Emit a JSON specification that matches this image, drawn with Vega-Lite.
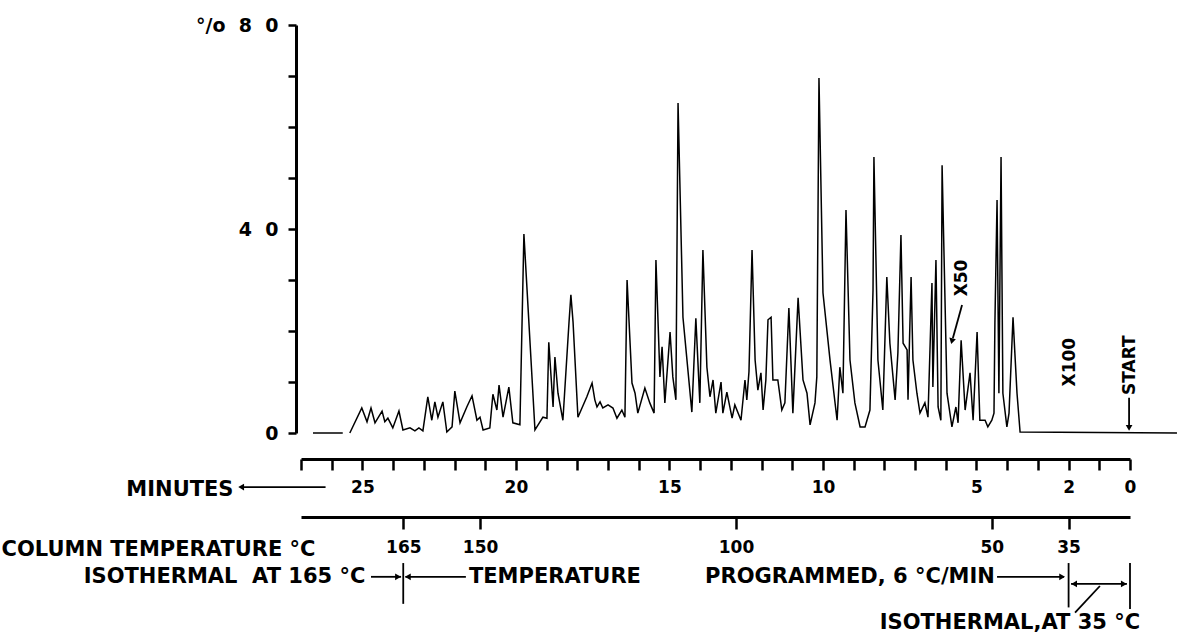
{
  "$schema": "https://vega.github.io/schema/vega-lite/v6.json",
  "width": 829,
  "height": 408,
  "autosize": {"type": "none"},
  "padding": {"left": 301, "top": 25, "right": 47, "bottom": 204},
  "background": "white",
  "config": {
    "view": {"stroke": null},
    "font": "DejaVu Sans",
    "axis": {
      "grid": false,
      "domainColor": "black",
      "tickColor": "black",
      "labelColor": "black",
      "titleColor": "black",
      "labelFont": "DejaVu Sans",
      "titleFont": "DejaVu Sans",
      "labelFontWeight": "bold",
      "titleFontWeight": "bold",
      "labelFontSize": 17,
      "titleFontSize": 21,
      "labelFlush": false,
      "labelOverlap": false
    },
    "text": {"font": "DejaVu Sans", "fontWeight": "bold", "fontSize": 21, "color": "black"}
  },
  "datasets": {
    "chrom": [
      {"t": 26.61, "p": 0, "s": "a"}, {"t": 25.64, "p": 0, "s": "a"},
      {"t": 25.41, "p": 0, "s": "b"}, {"t": 25.02, "p": 4.9, "s": "b"}, {"t": 24.85, "p": 2.2, "s": "b"}, {"t": 24.72, "p": 4.9, "s": "b"}, {"t": 24.59, "p": 2.0, "s": "b"}, {"t": 24.36, "p": 4.3, "s": "b"}, {"t": 24.27, "p": 2.2, "s": "b"}, {"t": 24.17, "p": 2.9, "s": "b"}, {"t": 24.01, "p": 1.0, "s": "b"}, {"t": 23.81, "p": 4.3, "s": "b"}, {"t": 23.68, "p": 0.6, "s": "b"}, {"t": 23.45, "p": 1.0, "s": "b"}, {"t": 23.29, "p": 0.4, "s": "b"}, {"t": 23.16, "p": 1.0, "s": "b"}, {"t": 23.03, "p": 0.4, "s": "b"},
      {"t": 22.87, "p": 7.1, "s": "b"}, {"t": 22.74, "p": 2.5, "s": "b"}, {"t": 22.64, "p": 6.1, "s": "b"}, {"t": 22.54, "p": 3.1, "s": "b"}, {"t": 22.38, "p": 6.1, "s": "b"}, {"t": 22.25, "p": 0.2, "s": "b"}, {"t": 22.08, "p": 1.2, "s": "b"}, {"t": 21.99, "p": 8.2, "s": "b"}, {"t": 21.82, "p": 2.0, "s": "b"}, {"t": 21.60, "p": 5.1, "s": "b"}, {"t": 21.43, "p": 7.3, "s": "b"}, {"t": 21.27, "p": 2.5, "s": "b"}, {"t": 21.17, "p": 3.1, "s": "b"}, {"t": 21.07, "p": 0.6, "s": "b"}, {"t": 20.85, "p": 1.0, "s": "b"}, {"t": 20.75, "p": 7.6, "s": "b"}, {"t": 20.62, "p": 4.5, "s": "b"}, {"t": 20.55, "p": 9.4, "s": "b"}, {"t": 20.42, "p": 3.1, "s": "b"}, {"t": 20.23, "p": 9.0, "s": "b"}, {"t": 20.10, "p": 2.0, "s": "b"}, {"t": 19.87, "p": 1.6, "s": "b"},
      {"t": 19.74, "p": 39.0, "s": "b"}, {"t": 19.38, "p": 0.6, "s": "b"}, {"t": 19.12, "p": 3.1, "s": "b"}, {"t": 18.99, "p": 2.9, "s": "b"}, {"t": 18.93, "p": 17.8, "s": "b"}, {"t": 18.79, "p": 5.1, "s": "b"}, {"t": 18.73, "p": 14.9, "s": "b"}, {"t": 18.63, "p": 7.8, "s": "b"}, {"t": 18.47, "p": 2.5, "s": "b"}, {"t": 18.27, "p": 21.8, "s": "b"}, {"t": 18.21, "p": 27.1, "s": "b"}, {"t": 18.14, "p": 21.8, "s": "b"}, {"t": 17.98, "p": 3.1, "s": "b"}, {"t": 17.69, "p": 7.1, "s": "b"}, {"t": 17.52, "p": 9.8, "s": "b"}, {"t": 17.43, "p": 6.5, "s": "b"}, {"t": 17.36, "p": 5.1, "s": "b"}, {"t": 17.26, "p": 6.1, "s": "b"}, {"t": 17.17, "p": 4.9, "s": "b"}, {"t": 17.00, "p": 5.5, "s": "b"}, {"t": 16.84, "p": 4.9, "s": "b"}, {"t": 16.71, "p": 2.9, "s": "b"}, {"t": 16.55, "p": 4.5, "s": "b"}, {"t": 16.45, "p": 3.1, "s": "b"},
      {"t": 16.38, "p": 30.0, "s": "b"}, {"t": 16.22, "p": 9.8, "s": "b"}, {"t": 16.12, "p": 7.8, "s": "b"}, {"t": 16.03, "p": 3.9, "s": "b"}, {"t": 15.80, "p": 8.8, "s": "b"}, {"t": 15.64, "p": 5.9, "s": "b"}, {"t": 15.50, "p": 3.9, "s": "b"}, {"t": 15.44, "p": 33.9, "s": "b"}, {"t": 15.31, "p": 11.0, "s": "b"}, {"t": 15.24, "p": 16.9, "s": "b"}, {"t": 15.15, "p": 5.9, "s": "b"}, {"t": 14.98, "p": 19.8, "s": "b"}, {"t": 14.89, "p": 11.0, "s": "b"}, {"t": 14.79, "p": 6.5, "s": "b"}, {"t": 14.72, "p": 64.7, "s": "b"}, {"t": 14.56, "p": 22.7, "s": "b"}, {"t": 14.27, "p": 4.1, "s": "b"}, {"t": 14.14, "p": 22.5, "s": "b"}, {"t": 14.01, "p": 5.9, "s": "b"}, {"t": 13.91, "p": 35.9, "s": "b"}, {"t": 13.78, "p": 12.9, "s": "b"}, {"t": 13.68, "p": 7.1, "s": "b"}, {"t": 13.58, "p": 10.4, "s": "b"}, {"t": 13.49, "p": 3.9, "s": "b"}, {"t": 13.32, "p": 10.0, "s": "b"}, {"t": 13.26, "p": 3.9, "s": "b"}, {"t": 13.13, "p": 8.0, "s": "b"}, {"t": 12.96, "p": 2.9, "s": "b"}, {"t": 12.87, "p": 5.5, "s": "b"}, {"t": 12.67, "p": 2.5, "s": "b"},
      {"t": 12.54, "p": 10.4, "s": "b"}, {"t": 12.48, "p": 6.5, "s": "b"}, {"t": 12.41, "p": 12.0, "s": "b"}, {"t": 12.31, "p": 35.9, "s": "b"}, {"t": 12.21, "p": 14.3, "s": "b"}, {"t": 12.12, "p": 8.4, "s": "b"}, {"t": 12.02, "p": 11.8, "s": "b"}, {"t": 11.95, "p": 4.5, "s": "b"}, {"t": 11.86, "p": 10.4, "s": "b"}, {"t": 11.79, "p": 22.2, "s": "b"}, {"t": 11.69, "p": 22.7, "s": "b"}, {"t": 11.63, "p": 10.4, "s": "b"}, {"t": 11.47, "p": 10.4, "s": "b"}, {"t": 11.34, "p": 4.5, "s": "b"}, {"t": 11.24, "p": 5.9, "s": "b"}, {"t": 11.11, "p": 24.5, "s": "b"}, {"t": 10.98, "p": 3.9, "s": "b"}, {"t": 10.81, "p": 26.5, "s": "b"}, {"t": 10.65, "p": 10.4, "s": "b"}, {"t": 10.52, "p": 7.8, "s": "b"}, {"t": 10.42, "p": 1.6, "s": "b"}, {"t": 10.26, "p": 5.9, "s": "b"}, {"t": 10.20, "p": 11.0, "s": "b"}, {"t": 10.13, "p": 69.6, "s": "b"}, {"t": 10.00, "p": 27.5, "s": "b"}, {"t": 9.77, "p": 14.3, "s": "b"}, {"t": 9.54, "p": 2.5, "s": "b"}, {"t": 9.45, "p": 12.9, "s": "b"}, {"t": 9.35, "p": 7.8, "s": "b"}, {"t": 9.25, "p": 43.7, "s": "b"}, {"t": 9.12, "p": 14.3, "s": "b"}, {"t": 8.96, "p": 5.9, "s": "b"}, {"t": 8.79, "p": 1.2, "s": "b"}, {"t": 8.63, "p": 1.2, "s": "b"}, {"t": 8.47, "p": 4.5, "s": "b"},
      {"t": 8.37, "p": 28.0, "s": "b"}, {"t": 8.34, "p": 54.1, "s": "b"}, {"t": 8.21, "p": 14.3, "s": "b"}, {"t": 8.05, "p": 4.5, "s": "b"}, {"t": 7.92, "p": 30.6, "s": "b"}, {"t": 7.82, "p": 17.6, "s": "b"}, {"t": 7.65, "p": 6.5, "s": "b"}, {"t": 7.56, "p": 15.7, "s": "b"}, {"t": 7.46, "p": 38.8, "s": "b"}, {"t": 7.39, "p": 17.6, "s": "b"}, {"t": 7.26, "p": 16.3, "s": "b"}, {"t": 7.23, "p": 6.5, "s": "b"}, {"t": 7.13, "p": 30.6, "s": "b"}, {"t": 7.07, "p": 14.3, "s": "b"}, {"t": 6.94, "p": 7.8, "s": "b"}, {"t": 6.84, "p": 3.9, "s": "b"}, {"t": 6.68, "p": 5.9, "s": "b"}, {"t": 6.58, "p": 3.1, "s": "b"}, {"t": 6.45, "p": 29.4, "s": "b"}, {"t": 6.42, "p": 9.0, "s": "b"}, {"t": 6.32, "p": 33.9, "s": "b"}, {"t": 6.25, "p": 5.1, "s": "b"}, {"t": 6.16, "p": 2.5, "s": "b"}, {"t": 6.12, "p": 52.5, "s": "b"}, {"t": 5.96, "p": 7.8, "s": "b"}, {"t": 5.80, "p": 1.2, "s": "b"}, {"t": 5.67, "p": 5.1, "s": "b"}, {"t": 5.60, "p": 2.0, "s": "b"}, {"t": 5.50, "p": 18.2, "s": "b"}, {"t": 5.37, "p": 4.5, "s": "b"}, {"t": 5.21, "p": 11.8, "s": "b"}, {"t": 5.11, "p": 2.5, "s": "b"}, {"t": 4.98, "p": 19.8, "s": "b"}, {"t": 4.89, "p": 2.5, "s": "b"}, {"t": 4.72, "p": 2.5, "s": "b"}, {"t": 4.63, "p": 1.2, "s": "b"}, {"t": 4.50, "p": 2.5, "s": "b"}, {"t": 4.43, "p": 3.9, "s": "b"},
      {"t": 4.40, "p": 21.6, "s": "b"}, {"t": 4.33, "p": 45.7, "s": "b"}, {"t": 4.27, "p": 7.8, "s": "b"}, {"t": 4.20, "p": 54.1, "s": "b"}, {"t": 4.14, "p": 7.8, "s": "b"}, {"t": 4.01, "p": 1.2, "s": "b"}, {"t": 3.94, "p": 3.9, "s": "b"}, {"t": 3.81, "p": 22.7, "s": "b"}, {"t": 3.75, "p": 15.7, "s": "b"}, {"t": 3.68, "p": 7.8, "s": "b"}, {"t": 3.58, "p": 0.2, "s": "b"}, {"t": -1.53, "p": 0, "s": "b"}
    ],
    "vtext": [
      {"t": 5.47, "p": 30.4, "txt": "X50"},
      {"t": 1.95, "p": 13.9, "txt": "X100"},
      {"t": 0.0, "p": 13.3, "txt": "START"}
    ],
    "btext": [
      {"t": 29.49, "p": -28.2, "txt": "ISOTHERMAL\u00a0\u00a0AT 165 °C"},
      {"t": 18.73, "p": -28.2, "txt": "TEMPERATURE"},
      {"t": 9.12, "p": -28.2, "txt": "PROGRAMMED, 6 °C/MIN"},
      {"t": 3.91, "p": -37.3, "txt": "ISOTHERMAL,AT 35 °C"}
    ],
    "segs": [
      {"t": 28.95, "t2": 26.2, "p": -10.6, "p2": -10.6},
      {"t": 24.72, "t2": 23.74, "p": -28.2, "p2": -28.2},
      {"t": 23.67, "t2": 23.67, "p": -25.5, "p2": -33.5},
      {"t": 23.6, "t2": 21.63, "p": -28.2, "p2": -28.2},
      {"t": 4.33, "t2": 2.15, "p": -28.2, "p2": -28.2},
      {"t": 2.0, "t2": 2.0, "p": -25.5, "p2": -34.2},
      {"t": 1.92, "t2": 0.1, "p": -29.6, "p2": -29.6},
      {"t": 0.0, "t2": 0.0, "p": -25.5, "p2": -34.5},
      {"t": 1.79, "t2": 0.98, "p": -35.2, "p2": -30.0},
      {"t": 5.47, "t2": 5.77, "p": 25.1, "p2": 18.6},
      {"t": 0.03, "t2": 0.03, "p": 6.9, "p2": 1.2}
    ],
    "heads": [
      {"t": 28.95, "p": -10.6, "shape": "triangle-left", "ang": 0},
      {"t": 23.84, "p": -28.2, "shape": "triangle-right", "ang": 0},
      {"t": 23.52, "p": -28.2, "shape": "triangle-left", "ang": 0},
      {"t": 2.21, "p": -28.2, "shape": "triangle-right", "ang": 0},
      {"t": 1.82, "p": -29.6, "shape": "triangle-left", "ang": 0},
      {"t": 0.2, "p": -29.6, "shape": "triangle-right", "ang": 0},
      {"t": 5.8, "p": 18.0, "shape": "triangle-down", "ang": 14},
      {"t": 0.03, "p": 1.0, "shape": "triangle-down", "ang": 0}
    ],
    "temps": [
      {"t": 23.6667, "temp": 165},
      {"t": 21.1667, "temp": 150},
      {"t": 12.8333, "temp": 100},
      {"t": 4.5, "temp": 50},
      {"t": 2.0, "temp": 35}
    ]
  },
  "layer": [
    {
      "encoding": {
        "x": {
          "field": "t",
          "type": "quantitative",
          "scale": {"domain": [27, 0], "nice": false, "zero": false},
          "axis": {
            "orient": "bottom",
            "offset": 26,
            "values": [0,1,2,3,4,5,6,7,8,9,10,11,12,13,14,15,16,17,18,19,20,21,22,23,24,25,26,27],
            "labelExpr": "indexof([0,2,5,10,15,20,25], datum.value) >= 0 ? datum.label : ''",
            "domainWidth": 3,
            "tickWidth": 2.5,
            "tickSize": 11,
            "labelPadding": 9,
            "title": "MINUTES",
            "titleX": -68,
            "titleY": 30,
            "titleAlign": "right",
            "titleBaseline": "middle",
            "titleAnchor": null
          }
        },
        "y": {
          "field": "p",
          "type": "quantitative",
          "scale": {"domain": [0, 80], "nice": false, "zero": false},
          "axis": {
            "orient": "left",
            "offset": 5,
            "values": [0,10,20,30,40,50,60,70,80],
            "labelExpr": "datum.value == 0 ? '0' : datum.value == 40 ? '4\u00a0\u00a00' : datum.value == 80 ? '°/o\u00a0\u00a08\u00a0\u00a00' : ''",
            "labelFontSize": 19,
            "domainWidth": 3,
            "tickWidth": 2.5,
            "tickSize": 8,
            "labelPadding": 10,
            "title": null
          }
        }
      },
      "layer": [
        {
          "data": {"name": "chrom"},
          "mark": {"type": "line", "color": "black", "strokeWidth": 1.5, "clip": false},
          "encoding": {"detail": {"field": "s", "type": "nominal"}}
        },
        {
          "data": {"name": "vtext"},
          "mark": {"type": "text", "angle": 270, "align": "center", "baseline": "middle", "fontSize": 17},
          "encoding": {"text": {"field": "txt", "type": "nominal"}}
        },
        {
          "data": {"name": "btext"},
          "mark": {"type": "text", "align": "center", "baseline": "middle", "fontSize": 21},
          "encoding": {"text": {"field": "txt", "type": "nominal"}}
        },
        {
          "data": {"name": "segs"},
          "mark": {"type": "rule", "color": "black", "strokeWidth": 1.8},
          "encoding": {
            "x2": {"field": "t2"},
            "y2": {"field": "p2"}
          }
        },
        {
          "data": {"name": "heads"},
          "mark": {"type": "point", "filled": true, "color": "black", "opacity": 1, "size": 45},
          "encoding": {
            "shape": {"field": "shape", "type": "nominal", "scale": null, "legend": null},
            "angle": {"field": "ang", "type": "quantitative", "scale": null}
          }
        }
      ]
    },
    {
      "data": {"name": "temps"},
      "mark": {"type": "point", "opacity": 0},
      "encoding": {
        "x": {
          "field": "t",
          "type": "quantitative",
          "scale": {"domain": [27, 0], "nice": false, "zero": false},
          "axis": {
            "orient": "bottom",
            "offset": 84,
            "values": [23.6667, 21.1667, 12.8333, 4.5, 2],
            "labelExpr": "datum.value > 23 ? '165' : datum.value > 20 ? '150' : datum.value > 12 ? '100' : datum.value > 4 ? '50' : '35'",
            "domainWidth": 3,
            "tickWidth": 2.5,
            "tickSize": 12,
            "labelPadding": 10,
            "title": "COLUMN  TEMPERATURE °C",
            "titleX": 14,
            "titleY": 32,
            "titleAlign": "right",
            "titleBaseline": "middle",
            "titleAnchor": null
          }
        }
      }
    }
  ],
  "resolve": {"scale": {"x": "independent"}, "axis": {"x": "independent"}}
}
